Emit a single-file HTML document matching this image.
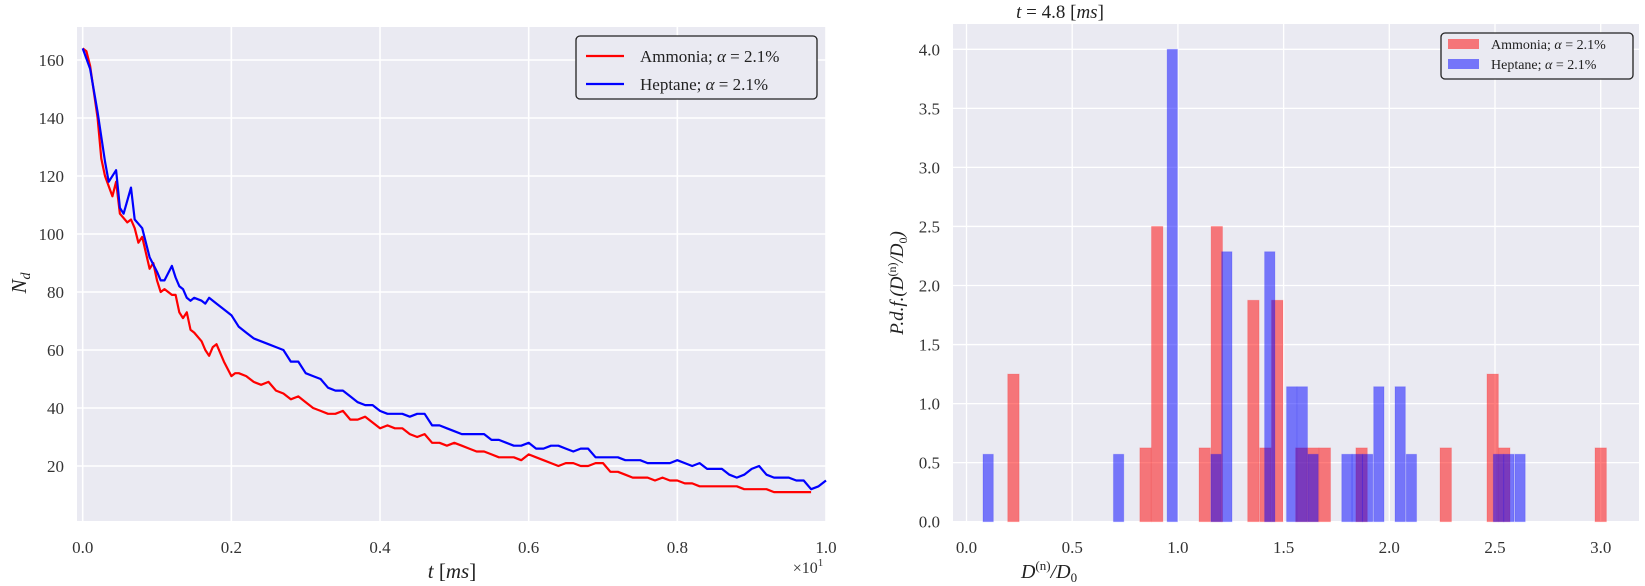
<!DOCTYPE html>
<html><head><meta charset="utf-8"><style>
body{margin:0;background:#fff;}
svg{display:block;font-family:"Liberation Serif",serif;}
</style></head><body>
<svg id="fig" width="1645" height="586" viewBox="0 0 1645 586" xmlns="http://www.w3.org/2000/svg">
<g id="left"></g>
<g id="right"></g>
</svg>
<script>
// ---- Left chart data ----
const redT = [0,0.005,0.01,0.02,0.025,0.03,0.04,0.045,0.05,0.06,0.065,0.07,0.075,0.08,0.09,0.095,0.1,0.105,0.11,0.12,0.125,0.13,0.135,0.14,0.145,0.15,0.16,0.165,0.17,0.175,0.18,0.19,0.2,0.205,0.21,0.22,0.23,0.24,0.25,0.26,0.27,0.28,0.29,0.3,0.31,0.32,0.33,0.34,0.35,0.36,0.37,0.38,0.39,0.4,0.41,0.42,0.43,0.44,0.45,0.46,0.47,0.48,0.49,0.5,0.51,0.52,0.53,0.54,0.55,0.56,0.57,0.58,0.59,0.6,0.61,0.62,0.63,0.64,0.65,0.66,0.67,0.68,0.69,0.7,0.71,0.72,0.73,0.74,0.75,0.76,0.77,0.78,0.79,0.8,0.81,0.82,0.83,0.84,0.85,0.86,0.87,0.88,0.89,0.9,0.91,0.92,0.93,0.94,0.95,0.96,0.97,0.98];
const redN = [164,163,158,140,126,120,113,118,107,104,105,102,97,99,88,90,84,80,81,79,79,73,71,73,67,66,63,60,58,61,62,56,51,52,52,51,49,48,49,46,45,43,44,42,40,39,38,38,39,36,36,37,35,33,34,33,33,31,30,31,28,28,27,28,27,26,25,25,24,23,23,23,22,24,23,22,21,20,21,21,20,20,21,21,18,18,17,16,16,16,15,16,15,15,14,14,13,13,13,13,13,13,12,12,12,12,11,11,11,11,11,11];
const blueT = [0,0.01,0.02,0.03,0.035,0.045,0.05,0.055,0.065,0.07,0.08,0.09,0.1,0.105,0.11,0.12,0.125,0.13,0.135,0.14,0.145,0.15,0.16,0.165,0.17,0.18,0.19,0.2,0.21,0.22,0.23,0.24,0.25,0.26,0.27,0.28,0.29,0.3,0.31,0.32,0.33,0.34,0.35,0.36,0.37,0.38,0.39,0.4,0.41,0.42,0.43,0.44,0.45,0.46,0.47,0.48,0.49,0.5,0.51,0.52,0.53,0.54,0.55,0.56,0.57,0.58,0.59,0.6,0.61,0.62,0.63,0.64,0.65,0.66,0.67,0.68,0.69,0.7,0.71,0.72,0.73,0.74,0.75,0.76,0.77,0.78,0.79,0.8,0.81,0.82,0.83,0.84,0.85,0.86,0.87,0.88,0.89,0.9,0.91,0.92,0.93,0.94,0.95,0.96,0.97,0.98,0.99,1.0];
const blueN = [164,157,142,125,118,122,109,107,116,105,102,92,87,84,84,89,85,82,81,78,77,78,77,76,78,76,74,72,68,66,64,63,62,61,60,56,56,52,51,50,47,46,46,44,42,41,41,39,38,38,38,37,38,38,34,34,33,32,31,31,31,31,29,29,28,27,27,28,26,26,27,27,26,25,26,26,23,23,23,23,22,22,22,21,21,21,21,22,21,20,21,19,19,19,17,16,17,19,20,17,16,16,16,15,15,12,13,15];
const leftXTicks = [0.0,0.2,0.4,0.6,0.8,1.0];
const leftXLabels = ["0.0","0.2","0.4","0.6","0.8","1.0"];
const leftYTicks = [20,40,60,80,100,120,140,160];

// ---- Right chart data ----
const redLeft = [0.195,0.820,0.875,1.100,1.157,1.330,1.387,1.443,1.557,1.613,1.668,1.842,2.240,2.462,2.517,2.973];
const redH = [1.25,0.625,2.5,0.625,2.5,1.875,0.625,1.875,0.625,0.625,0.625,0.625,0.625,1.25,0.625,0.625];
const blueLeft = [0.078,0.695,0.949,1.156,1.207,1.410,1.514,1.564,1.615,1.775,1.824,1.873,1.926,2.027,2.080,2.492,2.541,2.594];
const blueH = [0.571,0.571,4.0,0.571,2.286,2.286,1.143,1.143,0.571,0.571,0.571,0.571,1.143,1.143,0.571,0.571,0.571,0.571];
const redW = 0.054, blueW = 0.049;
const rightXTicks = [0.0,0.5,1.0,1.5,2.0,2.5,3.0];
const rightYTicks = [0.0,0.5,1.0,1.5,2.0,2.5,3.0,3.5,4.0];

const NS="http://www.w3.org/2000/svg";
function mk(parent,tag,attrs,text){const e=document.createElementNS(NS,tag);for(const k in attrs)e.setAttribute(k,attrs[k]);if(text!==undefined)e.textContent=text;parent.appendChild(e);return e;}

// ---- Left chart ----
const L=document.getElementById('left');
const lx=v=>82.7+v*743.3, ly=v=>466-(v-20)*2.9;
const lbg=mk(L,'rect',{x:77,y:27,width:749,height:494,fill:'#eaeaf2'});


leftXTicks.forEach((t,i)=>{
  const g=mk(L,'line',{x1:lx(t),x2:lx(t),y1:27,y2:521,stroke:'#fff','stroke-width':1.6});
  
  
  const tx=mk(L,'text',{x:lx(t),y:553,'font-size':17,'text-anchor':'middle',fill:'#333'},leftXLabels[i]);
  
  
});
leftYTicks.forEach(t=>{
  const g=mk(L,'line',{x1:77,x2:826,y1:ly(t),y2:ly(t),stroke:'#fff','stroke-width':1.6});
  
  
  const tx=mk(L,'text',{x:64,y:ly(t)+6,'font-size':17,'text-anchor':'end',fill:'#333'},String(t));
  
  
});
function line(T,N,color,name){
  const d=T.map((t,i)=>(i?'L':'M')+lx(t).toFixed(1)+','+ly(N[i]).toFixed(1)).join('');
  const p=mk(L,'path',{d:d,fill:'none',stroke:color,'stroke-width':2.2,'stroke-linejoin':'round'});
  
  
}
line(redT,redN,'#ff0000','ammonia-line');
line(blueT,blueN,'#0000ff','heptane-line');
</script>
<script>
// static labels / legends for left
(function(){
const L=document.getElementById('left');
L.insertAdjacentHTML('beforeend',`
<text x="452" y="578" font-size="21" text-anchor="middle" fill="#222" font-style="italic">t <tspan font-style="normal">[</tspan>ms<tspan font-style="normal">]</tspan></text>
<text x="808" y="573" font-size="16" text-anchor="middle" fill="#333">×10<tspan font-size="11" dy="-7">1</tspan></text>
<text x="0" y="0" transform="translate(26,283) rotate(-90)" font-size="21" text-anchor="middle" fill="#222" font-style="italic">N<tspan font-size="14" dy="4">d</tspan></text>
<g>
<rect x="576" y="36" width="241" height="63" rx="4" fill="#eaeaf2" stroke="#222" stroke-width="1.3"/>
<line x1="586" x2="624" y1="56" y2="56" stroke="#ff0000" stroke-width="2.2"/>
<text x="640" y="62" font-size="17" fill="#222">Ammonia; <tspan font-style="italic">α</tspan> = 2.1%</text>
<line x1="586" x2="624" y1="84" y2="84" stroke="#0000ff" stroke-width="2.2"/>
<text x="640" y="90" font-size="17" fill="#222">Heptane; <tspan font-style="italic">α</tspan> = 2.1%</text>
</g>`);
})();
</script>
<script>
// ---- Right chart ----
(function(){
const R=document.getElementById('right');
const rx=v=>966.5+v*211.4, ry=v=>521.7-v*118.1;
const bg=mk(R,'rect',{x:953,y:24,width:686,height:497.7,fill:'#eaeaf2'});


rightXTicks.forEach(t=>{
  const g=mk(R,'line',{x1:rx(t),x2:rx(t),y1:24,y2:521.7,stroke:'#fff','stroke-width':1.3});
  
  
  const tx=mk(R,'text',{x:rx(t),y:553,'font-size':17,'text-anchor':'middle',fill:'#333'},t.toFixed(1));
  
  
});
rightYTicks.forEach(t=>{
  const g=mk(R,'line',{x1:953,x2:1639,y1:ry(t),y2:ry(t),stroke:'#fff','stroke-width':1.3});
  
  
  const tx=mk(R,'text',{x:940,y:ry(t)+6,'font-size':17,'text-anchor':'end',fill:'#333'},t.toFixed(1));
  
  
});
redLeft.forEach((x,i)=>{
  const b=mk(R,'rect',{x:rx(x),y:ry(redH[i]),width:redW*211.4,height:redH[i]*118.1,fill:'#ff0000','fill-opacity':0.5,stroke:'#ff0000','stroke-opacity':0.15});
  
  
});
blueLeft.forEach((x,i)=>{
  const b=mk(R,'rect',{x:rx(x),y:ry(blueH[i]),width:blueW*211.4,height:blueH[i]*118.1,fill:'#0000ff','fill-opacity':0.5,stroke:'#0000ff','stroke-opacity':0.15});
  
  
});
R.insertAdjacentHTML('beforeend',`
<text x="1060" y="18" font-size="19" text-anchor="middle" fill="#222"><tspan font-style="italic">t</tspan> = 4.8 [<tspan font-style="italic">ms</tspan>]</text>
<text x="1049" y="578" font-size="20" text-anchor="middle" fill="#222" font-style="italic">D<tspan font-size="13" dy="-8" font-style="normal">(n)</tspan><tspan dy="8">/D</tspan><tspan font-size="13" dy="4" font-style="normal">0</tspan></text>
<text x="0" y="0" transform="translate(903,283) rotate(-90)" font-size="19" text-anchor="middle" fill="#222" font-style="italic">P.d.f.(D<tspan font-size="12" dy="-7" font-style="normal">(n)</tspan><tspan dy="7">/D</tspan><tspan font-size="12" dy="4" font-style="normal">0</tspan><tspan dy="-4">)</tspan></text>
<g>
<rect x="1441" y="33" width="192" height="46" rx="4" fill="#eaeaf2" stroke="#222" stroke-width="1.3"/>
<rect x="1448" y="39" width="31" height="10" fill="#ff0000" fill-opacity="0.5"/>
<text x="1491" y="49" font-size="14" fill="#222">Ammonia; <tspan font-style="italic">α</tspan> = 2.1%</text>
<rect x="1448" y="59" width="31" height="10" fill="#0000ff" fill-opacity="0.5"/>
<text x="1491" y="69" font-size="14" fill="#222">Heptane; <tspan font-style="italic">α</tspan> = 2.1%</text>
</g>`);
})();
</script>
</body></html>
